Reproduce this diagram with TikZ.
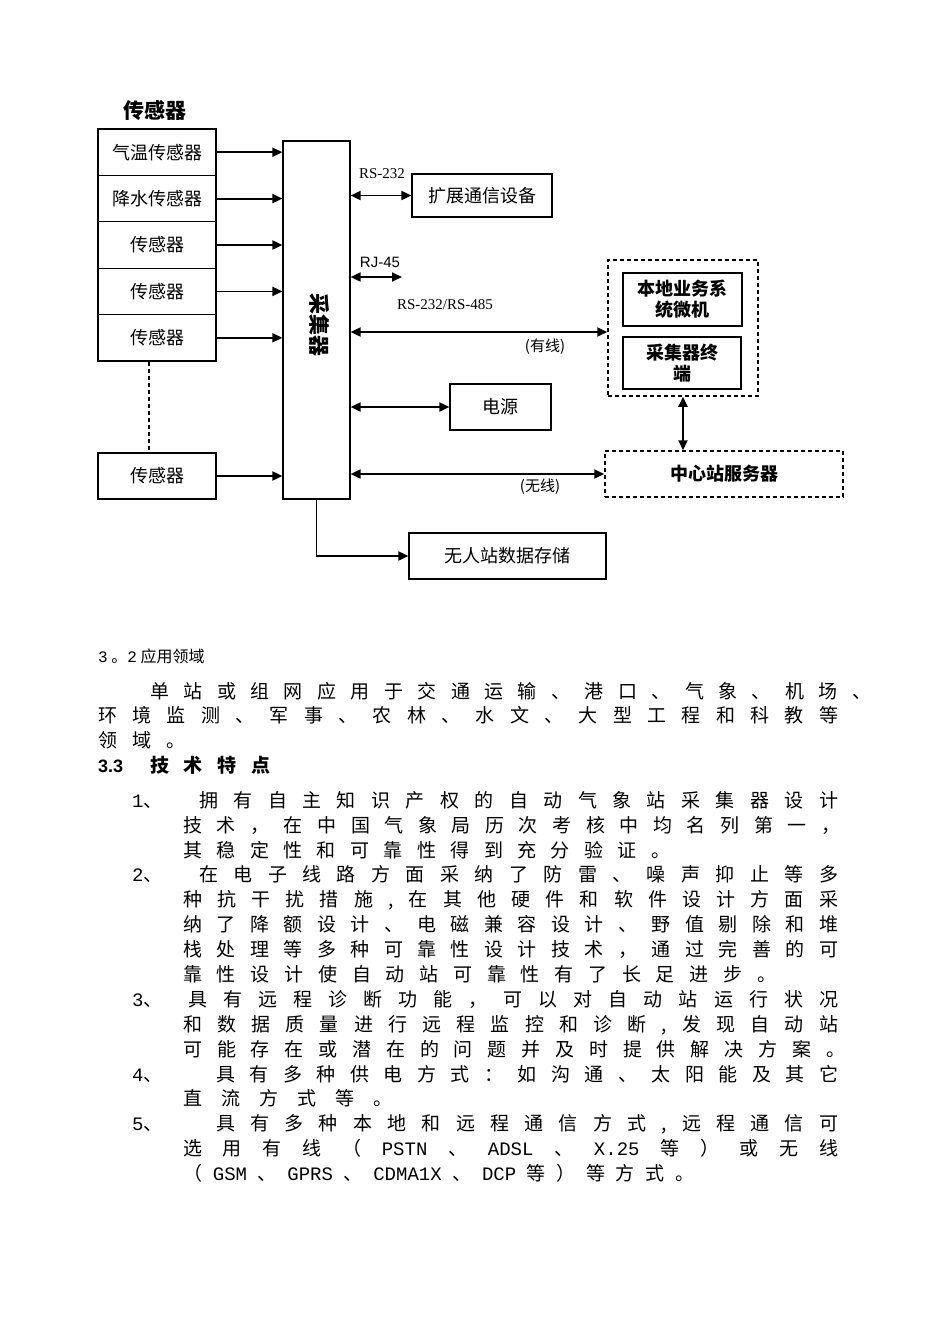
\documentclass[tikz,border=0pt]{standalone}
\usepackage{fontspec}
\setmainfont{Liberation Serif}
\newfontfamily\cjk{Noto Sans CJK SC}
\newfontfamily\lsans{Liberation Sans}
\newfontfamily\lmono{Liberation Mono}
\usetikzlibrary{arrows.meta}
\ExplSyntaxOn
\NewDocumentCommand \spreadline { m m }
  { \hbox to #1 { \tl_map_inline:nn {#2} { ##1 \hfill } \unskip } }
\ExplSyntaxOff
\newcommand\bodyfont{\cjk\fontsize{19}{19}\selectfont}
\tikzset{
  box/.style={draw, line width=1.2pt, inner sep=0pt, align=center, font=\cjk\fontsize{18}{22}\selectfont},
  bbox/.style={box, font=\cjk\bfseries\fontsize{18}{22}\selectfont},
  dbox/.style={draw, line width=1.5pt, dash pattern=on 4pt off 3pt, inner sep=0pt, align=center},
  tip/.tip={Triangle[length=10pt,width=9pt]},
  arr/.style={line width=1.8pt, -tip},
  dbl/.style={line width=1.8pt, tip-tip},
  lbl/.style={inner sep=0pt},
  bl/.style={anchor=base west, inner sep=0pt, font=\bodyfont}
}
\begin{document}
\begin{tikzpicture}[x=1pt,y=-1pt]
\fill[white] (0,0) rectangle (950,1344);
\useasboundingbox (0,0) rectangle (950,1344);

% title
\node[lbl, font=\cjk\bfseries\fontsize{21}{21}\selectfont] (title) at (155,110) {传感器};

% sensors
\node[box, minimum width=118pt, minimum height=46.4pt] (s1) at (157,152.2) {气温传感器};
\node[box, minimum width=118pt, minimum height=46.4pt] (s2) at (157,198.6) {降水传感器};
\node[box, minimum width=118pt, minimum height=46.4pt] (s3) at (157,245.0) {传感器};
\node[box, minimum width=118pt, minimum height=46.4pt] (s4) at (157,291.4) {传感器};
\node[box, minimum width=118pt, minimum height=46.4pt] (s5) at (157,337.8) {传感器};
\node[box, minimum width=118pt, minimum height=46pt] (s6) at (157,476) {传感器};

% collector
\node[box, minimum width=67pt, minimum height=358pt] (col) at (316.5,320) {};
\node[lbl, rotate=-90, font=\cjk\bfseries\fontsize{21}{21}\selectfont] (colt) at (320,325) {采集器};

% right boxes
\node[box, minimum width=140pt, minimum height=43pt] (ext) at (482,195.5) {扩展通信设备};
\node[box, minimum width=101pt, minimum height=46pt] (pw) at (500.5,407) {电源};
\node[box, minimum width=197pt, minimum height=46pt] (store) at (507.5,556) {无人站数据存储};
\node[dbox, minimum width=150pt, minimum height=136pt] (local) at (683,328) {};
\node[bbox, minimum width=119pt, minimum height=53pt, font=\cjk\bfseries\fontsize{18}{21}\selectfont] (pc) at (682.5,299.5) {本地业务系\\统微机};
\node[bbox, minimum width=118pt, minimum height=52pt, font=\cjk\bfseries\fontsize{18}{21}\selectfont] (term) at (682,363) {采集器终\\端};
\node[dbox, minimum width=238pt, minimum height=46pt, font=\cjk\bfseries\fontsize{18}{22}\selectfont] (srv) at (724,474) {中心站服务器};

% sensor arrows
\foreach \s in {s1,s2,s3,s4,s5,s6}
  \draw[arr] (\s.east) -- (\s.east -| col.west);
\draw[line width=1.3pt, dash pattern=on 4pt off 3pt] ([xshift=-8pt]s5.south) -- ([xshift=-8pt]s6.north);

% right connectors
\coordinate (rj) at (402,277);
\coordinate (wired) at (0,332);
\draw[dbl] (col.east |- ext.west) -- (ext.west);
\draw[dbl] (col.east |- rj) -- (rj);
\draw[dbl] (col.east |- wired) -- (local.west |- wired);
\draw[dbl] (col.east |- pw.west) -- (pw.west);
\draw[dbl] (col.east |- srv.west) -- (srv.west);
\draw[dbl] (local.south) -- (local.south |- srv.north);
\draw[arr] (col.south) |- (store.west);

% connector labels
\node[lbl, font=\fontsize{15}{15}\selectfont] (l232) at (382,174) {RS-232};
\node[lbl, font=\lsans\fontsize{15}{15}\selectfont] (lrj) at (380,262) {RJ-45};
\node[lbl, font=\fontsize{15}{15}\selectfont] (l485) at (445,305) {RS-232/RS-485};
\node[lbl, font=\cjk\fontsize{15}{15}\selectfont] (lwired) at (545,347) {(有线)};
\node[lbl, font=\cjk\fontsize{15}{15}\selectfont] (lwl) at (540,487) {(无线)};

% text
\node[anchor=base west, inner sep=0pt, font=\cjk\fontsize{16}{16}\selectfont] (h32) at (98,662) {{\lmono 3} 。{\lmono 2} 应用领域};
\node[bl] (p1) at (150,698) {\spreadline{721pt}{单站或组网应用于交通运输、港口、气象、机场、}};
\node[bl] (p2) at (98,722) {\spreadline{740pt}{环境监测、军事、农林、水文、大型工程和科教等}};
\node[bl] (p3) at (98,747) {\spreadline{87pt}{领域。}};
\node[anchor=base west, inner sep=0pt, font=\lsans\bfseries\fontsize{18}{18}\selectfont] (h33) at (98,772) {3.3};
\node[bl, font=\cjk\bfseries\fontsize{19}{19}\selectfont] (h33t) at (150,772) {\spreadline{120pt}{技术特点}};

\node[bl] (n1) at (132,807) {{\lmono 1}、};
\node[bl] (a1) at (199,807) {\spreadline{639pt}{拥有自主知识产权的自动气象站采集器设计}};
\node[bl] (a2) at (183,832) {\spreadline{657pt}{技术，在中国气象局历次考核中均名列第一，}};
\node[bl] (a3) at (183,857) {\spreadline{487pt}{其稳定性和可靠性得到充分验证。}};
\node[bl] (n2) at (132,881) {{\lmono 2}、};
\node[bl] (b1) at (199,881) {\spreadline{639pt}{在电子线路方面采纳了防雷、噪声抑止等多}};
\node[bl] (b2) at (183,906) {\spreadline{655pt}{种抗干扰措施,在其他硬件和软件设计方面采}};
\node[bl] (b3) at (183,931) {\spreadline{655pt}{纳了降额设计、电磁兼容设计、野值剔除和堆}};
\node[bl] (b4) at (183,956) {\spreadline{655pt}{栈处理等多种可靠性设计技术，通过完善的可}};
\node[bl] (b5) at (183,981) {\spreadline{593pt}{靠性设计使自动站可靠性有了长足进步。}};
\node[bl] (n3) at (132,1006) {{\lmono 3}、};
\node[bl] (c1) at (188,1006) {\spreadline{650pt}{具有远程诊断功能，可以对自动站运行状况}};
\node[bl] (c2) at (183,1031) {\spreadline{655pt}{和数据质量进行远程监控和诊断,发现自动站}};
\node[bl] (c3) at (183,1056) {\spreadline{662pt}{可能存在或潜在的问题并及时提供解决方案。}};
\node[bl] (n4) at (132,1081) {{\lmono 4}、};
\node[bl] (d1) at (216,1081) {\spreadline{622pt}{具有多种供电方式：如沟通、太阳能及其它}};
\node[bl] (d2) at (183,1105) {\spreadline{209pt}{直流方式等。}};
\node[bl] (n5) at (132,1130) {{\lmono 5}、};
\node[bl] (e1) at (216,1130) {\spreadline{622pt}{具有多种本地和远程通信方式,远程通信可}};
\node[bl] (e2) at (183,1155) {\spreadline{655pt}{选用有线（{{\lmono PSTN}}、{{\lmono ADSL}}、{{\lmono X.25}}等）或无线}};
\node[bl] (e3) at (183,1180) {\spreadline{511pt}{（{{\lmono GSM}}、{{\lmono GPRS}}、{{\lmono CDMA1X}}、{{\lmono DCP}}等）等方式。}};
\end{tikzpicture}
\end{document}
